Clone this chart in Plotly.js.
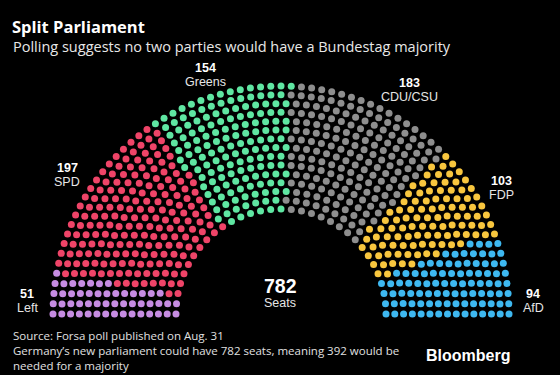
<!DOCTYPE html>
<html>
<head>
<meta charset="utf-8">
<script src="https://cdn.plot.ly/plotly-3.0.1.min.js"></script>
<style>html,body{margin:0;padding:0;background:#000;}#chart{width:560px;height:375px;}</style>
</head>
<body>
<div id="chart"></div>
<script>
// ---- data ----
const parties = ['Left', 'SPD', 'Greens', 'CDU/CSU', 'FDP', 'AfD'];
const seats = [51, 197, 154, 183, 103, 94];
const colors = ['#c68ce2', '#ef4468', '#5fe6a2', '#8e8e8e', '#f8c63e', '#3eb8f0'];
const totalLabel = 'Seats';

// ---- layout of the hemicycle (pixel space) ----
const W = 560, H = 375;
const cx = 281, cy = 314, r0 = 105, R = 228, rows = 15;
const N = seats.reduce((a, b) => a + b, 0);

const radii = [];
for (let i = 0; i < rows; i++) radii.push(r0 + i * (R - r0) / (rows - 1));
const sumR = radii.reduce((a, b) => a + b, 0);
const raw = radii.map(r => N * r / sumR);
const counts = raw.map(Math.floor);
let rem = N - counts.reduce((a, b) => a + b, 0);
const order = raw.map((v, i) => [v - Math.floor(v), i]).sort((a, b) => b[0] - a[0]);
for (let k = 0; k < rem; k++) counts[order[k][1]]++;

const spots = [];
radii.forEach((r, i) => {
  const n = counts[i];
  for (let j = 0; j < n; j++) {
    const th = Math.PI * (1 - j / (n - 1));
    spots.push({th, r, x: cx + r * Math.cos(th), y: cy - r * Math.sin(th)});
  }
});
spots.sort((a, b) => (b.th - a.th) || (b.r - a.r));

const traces = [];
let idx = 0;
parties.forEach((p, k) => {
  const xs = [], ys = [];
  for (let s = 0; s < seats[k]; s++, idx++) { xs.push(spots[idx].x); ys.push(spots[idx].y); }
  traces.push({type: 'scatter', mode: 'markers', name: p, x: xs, y: ys,
    marker: {size: 7, color: colors[k], line: {width: 0}}, hoverinfo: 'skip'});
});

const labelPos = [[27, 294], [67, 168], [205, 68], [409, 83], [501, 181], [533, 294]];
const ann = [];
parties.forEach((p, k) => {
  ann.push({x: labelPos[k][0], y: labelPos[k][1] - 0.5, text: '<b>' + seats[k] + '</b>', showarrow: false, borderpad: 0,
    xanchor: 'center', yanchor: 'middle', font: {family: 'Liberation Sans, Arial', size: 12.5, color: '#ffffff'}});
  ann.push({x: labelPos[k][0], y: labelPos[k][1] + 13.5, text: p, showarrow: false, borderpad: 0,
    xanchor: 'center', yanchor: 'middle', font: {family: 'Liberation Sans, Arial', size: 12.5, color: '#e6e6e6'}});
});
ann.push({x: 280, y: 285.5, text: '<b>' + N + '</b>', showarrow: false, xanchor: 'center', yanchor: 'middle', borderpad: 0,
  font: {family: 'Liberation Sans, Arial', size: 19.5, color: '#ffffff'}});
ann.push({x: 280, y: 302.5, text: totalLabel, showarrow: false, xanchor: 'center', yanchor: 'middle', borderpad: 0,
  font: {family: 'Liberation Sans, Arial', size: 12.5, color: '#e6e6e6'}});

ann.push({x: 12, y: 46, text: 'Polling suggests no two parties would have a Bundestag majority', showarrow: false, borderpad: 0,
  xanchor: 'left', yanchor: 'middle', font: {family: 'Open Sans', size: 14.5, color: '#e8e8e8'}});
ann.push({x: 11, y: 335, text: 'Source: Forsa poll published on Aug. 31', showarrow: false,
  xanchor: 'left', yanchor: 'middle', font: {family: 'Open Sans', size: 11.5, color: '#e0e0e0'}});
ann.push({x: 11, y: 358, text: 'Germany’s new parliament could have 782 seats, meaning 392 would be<br>needed for a majority', showarrow: false,
  xanchor: 'left', yanchor: 'middle', align: 'left', font: {family: 'Open Sans', size: 11.5, color: '#e0e0e0'}});
ann.push({x: 512, y: 355, text: '<b>Bloomberg</b>', showarrow: false, xanchor: 'right', yanchor: 'middle',
  font: {family: 'Liberation Sans, Arial', size: 16, color: '#ffffff'}});

const layout = {
  width: W, height: H,
  margin: {l: 0, r: 0, t: 0, b: 0},
  paper_bgcolor: '#000', plot_bgcolor: '#000',
  showlegend: false,
  title: {text: '<b>Split Parliament</b>', x: 12 / W, xanchor: 'left', xref: 'paper',
    y: 1 - 27 / H, yanchor: 'middle', yref: 'container', pad: {t: 0, b: 0, l: 0, r: 0},
    font: {family: 'Open Sans', size: 16.5, color: '#ffffff'}},
  xaxis: {range: [0, W], visible: false, fixedrange: true},
  yaxis: {range: [H, 0], visible: false, fixedrange: true},
  annotations: ann
};
Plotly.newPlot('chart', traces, layout, {displayModeBar: false, staticPlot: true});
</script>
</body>
</html>
